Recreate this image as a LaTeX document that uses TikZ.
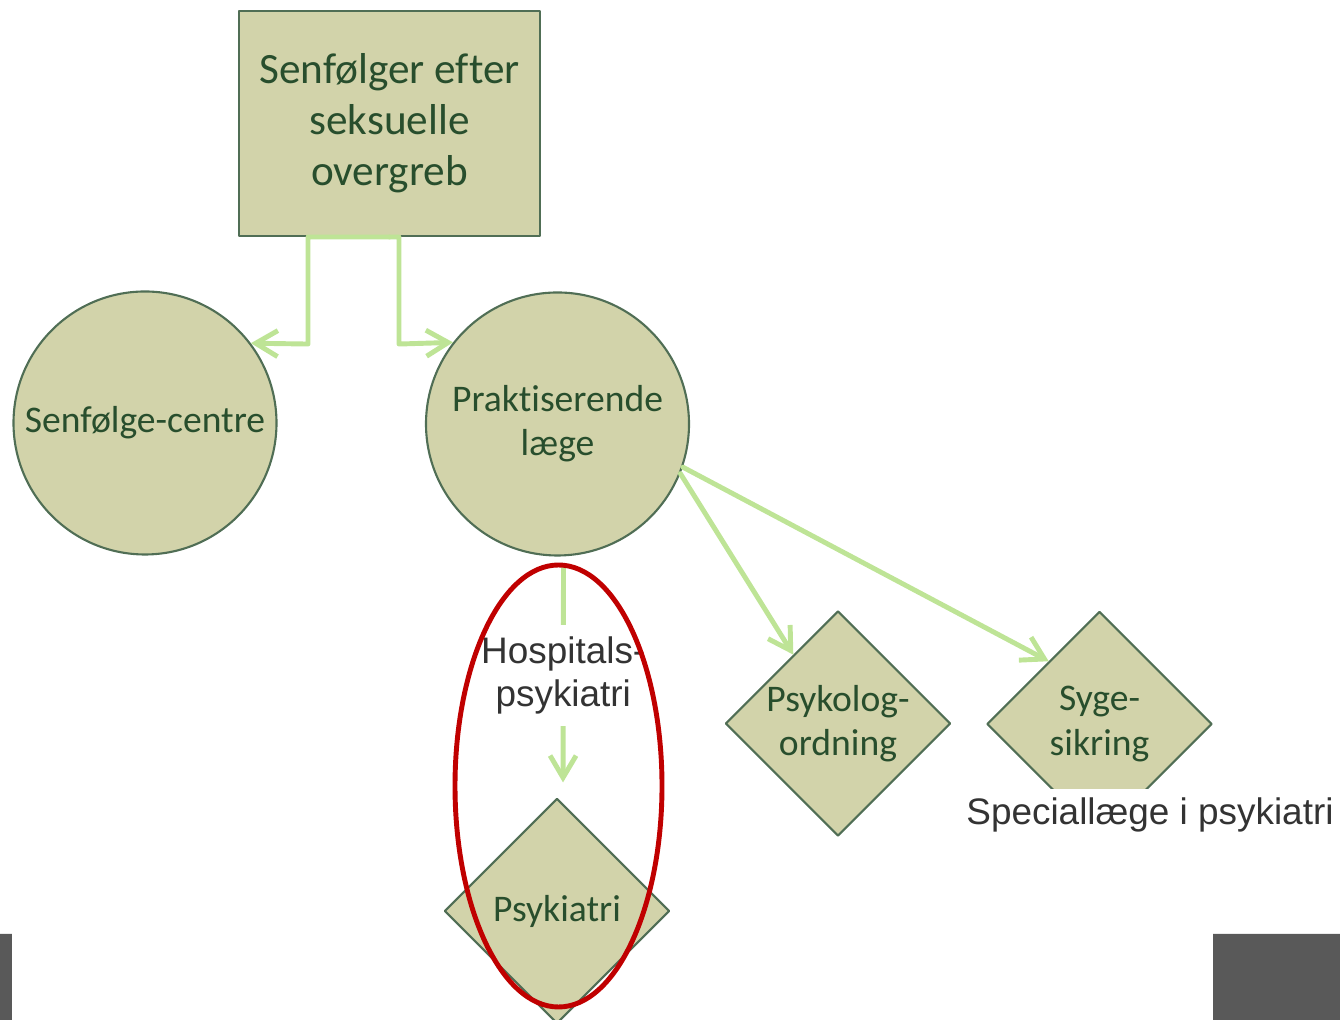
\documentclass[tikz,border=0pt]{standalone}
\usepackage{fontspec}
\setmainfont[Ligatures=NoCommon]{Carlito}
\newfontfamily\arialfont{Liberation Sans}
\usetikzlibrary{shapes.geometric,arrows.meta}
\definecolor{boxfill}{RGB}{210,211,170}
\definecolor{boxline}{RGB}{80,110,85}
\definecolor{boxtext}{RGB}{40,78,45}
\definecolor{arrgreen}{RGB}{190,228,150}
\definecolor{ringred}{RGB}{192,0,0}
\definecolor{bargray}{RGB}{89,89,89}
\begin{document}
\begin{tikzpicture}[line join=round,line cap=round,
	>={Straight Barb[length=2.2mm,width=2.6mm]},
	dtext/.style={text=boxtext,font=\fontsize{10.7}{12.6}\selectfont,align=center},
	box/.style={dtext,draw=boxline,fill=boxfill,line width=0.6pt},
	rect/.style={box,rectangle,font=\fontsize{12.3}{14.5}\selectfont,minimum width=3.01cm,minimum height=2.25cm},
	ball/.style={box,circle,minimum size=2.63cm,inner sep=0pt},
	dia/.style={box,diamond,minimum size=2.25cm,inner sep=0pt},
	arr/.style={->,draw=arrgreen,line width=1.4pt},
	note/.style={font=\arialfont\fontsize{10.5}{12.2}\selectfont,text=black!80,fill=white,align=center},
	ring/.style={draw=ringred,line width=1.4pt,ellipse,minimum width=2.07cm,minimum height=4.42cm}]
		\useasboundingbox (0,0) rectangle (13.4,10.2);
		\fill[bargray] (0,0) rectangle (0.12,0.86) (12.13,0) rectangle (13.4,0.86);
		% shapes
		\node[rect] (top) at (3.895,8.965) {Senfølger efter\\seksuelle\\overgreb};
		\node[ball] (cen) at (1.45,5.97) {Senfølge-centre};
		\node[ball] (prak) at (5.575,5.96) {Praktiserende\\læge};
		\node[dia,label={[dtext]center:Psykolog-\\ordning}] (psyk) at (8.38,2.965) {};
		\node[dia,label={[dtext]center:Syge-\\sikring}] (syg) at (10.995,2.96) {};
		\node[dia,label={[dtext]center:Psykiatri}] (psy) at (5.57,1.09) {};
		\node[note,inner xsep=1.5pt,inner ysep=2.5pt] (spec) at (11.5,2.05) {Speciallæge i psykiatri};
		% connectors
		\draw[arr] (top.south) -| ++(-0.815,-1.07) -- (cen.37.5);
		\draw[arr] (top.south) -| ++(0.095,-1.07) -- (prak.142);
		\draw[arr] (prak.-22.6) -- (psyk.123);
		\draw[arr] (prak.-19.7) -- (syg.129.6);
		\draw[arr] ([shift={(0.06,-0.12)}]prak.south) -- node[note] (hosp) {Hospitals-\\psykiatri} ([shift={(0.06,0.15)}]psy.north);
		\node[ring] (mark) at (5.585,2.34) {};
	\end{tikzpicture}
\end{document}
